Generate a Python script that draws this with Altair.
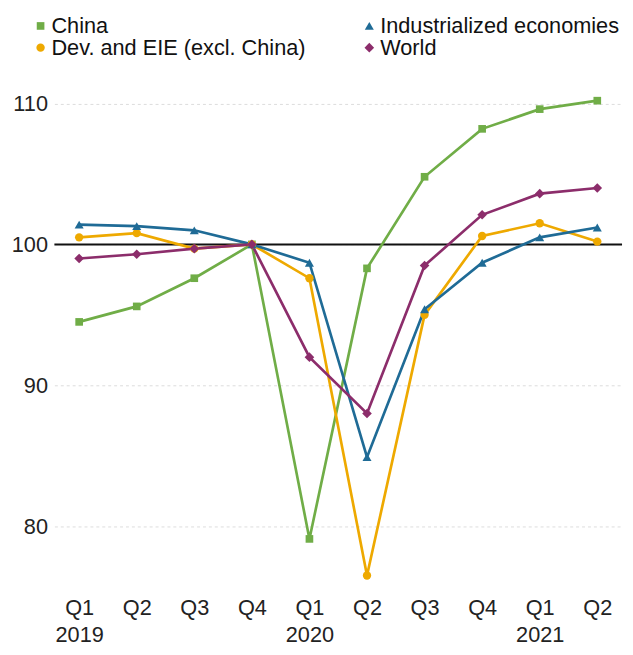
import altair as alt
import pandas as pd

quarters = ["Q1", "Q2", "Q3", "Q4", "Q1", "Q2", "Q3", "Q4", "Q1", "Q2"]
years = ["2019", "2019", "2019", "2019", "2020", "2020", "2020", "2020", "2021", "2021"]
periods = [f"{y} {q}" for y, q in zip(years, quarters)]

series_names = ["China", "Dev. and EIE (excl. China)", "Industrialized economies", "World"]
china = [94.5, 95.6, 97.6, 100.0, 79.1, 98.3, 104.8, 108.2, 109.6, 110.2]
dev_eie = [100.5, 100.8, 99.7, 100.0, 97.6, 76.5, 95.0, 100.6, 101.5, 100.2]
industrialized = [101.4, 101.3, 101.0, 100.0, 98.7, 84.9, 95.4, 98.7, 100.5, 101.2]
world = [99.0, 99.3, 99.7, 100.0, 92.0, 88.0, 98.5, 102.1, 103.6, 104.0]

colors = ["#70AD47", "#EEA900", "#1F6B96", "#8C2D6B"]
shapes = ["square", "circle", "triangle-up", "diamond"]
sizes = [60, 95, 130, 75]

rows = []
for name, vals in zip(series_names, [china, dev_eie, industrialized, world]):
    for p, v in zip(periods, vals):
        rows.append({"period": p, "series": name, "value": v})
df = pd.DataFrame(rows)

legend = alt.Legend(
    title=None, orient="none", legendX=-25, legendY=-61, columns=2,
    columnPadding=53, rowPadding=0, labelFontSize=22, labelColor="#111",
    labelOffset=0, labelLimit=0, symbolSize=90, symbolStrokeWidth=0,
    labelFont="Liberation Sans",
)

color = alt.Color("series:N", scale=alt.Scale(domain=series_names, range=colors), legend=legend)
shape = alt.Shape("series:N", scale=alt.Scale(domain=series_names, range=shapes), legend=legend)
size = alt.Size("series:N", scale=alt.Scale(domain=series_names, range=sizes), legend=None)

x = alt.X(
    "period:O", sort=periods, scale=alt.Scale(padding=0.43),
    axis=alt.Axis(
        title=None, labelAngle=0, domain=False, ticks=False, grid=False,
        labelFontSize=22, labelPadding=8, labelLineHeight=28, labelColor="#222",
        labelExpr="substring(datum.value, 5) == 'Q1' ? ['Q1', substring(datum.value, 0, 4)] : substring(datum.value, 5)",
    ),
)
y = alt.Y(
    "value:Q", scale=alt.Scale(domain=[75.5, 112], nice=False, zero=False),
    axis=alt.Axis(
        title=None, values=[80, 90, 100, 110], domain=False, ticks=False,
        labelFontSize=22, labelPadding=7, labelColor="#222",
        grid=True, gridDash=[3, 3], gridColor="#dcdcdc", gridWidth=1,
    ),
)

base = alt.Chart(df)
lines = base.mark_line(strokeWidth=2.7).encode(x=x, y=y, color=color, detail="series:N")
points = base.mark_point(filled=True, opacity=1).encode(x=x, y=y, color=color, shape=shape, size=size)
rule = alt.Chart(pd.DataFrame({"v": [100]})).mark_rule(color="#111", strokeWidth=2).encode(y="v:Q")

chart = alt.layer(rule, lines, points).properties(
    width=575, height=521,
    padding={"left": 47, "top": 64, "right": 3, "bottom": 60},
    autosize=alt.AutoSizeParams(type="none"),
).configure(font="Liberation Sans").configure_view(stroke=None)

chart.save("out.html", embed_options={"renderer": "svg", "actions": False})
